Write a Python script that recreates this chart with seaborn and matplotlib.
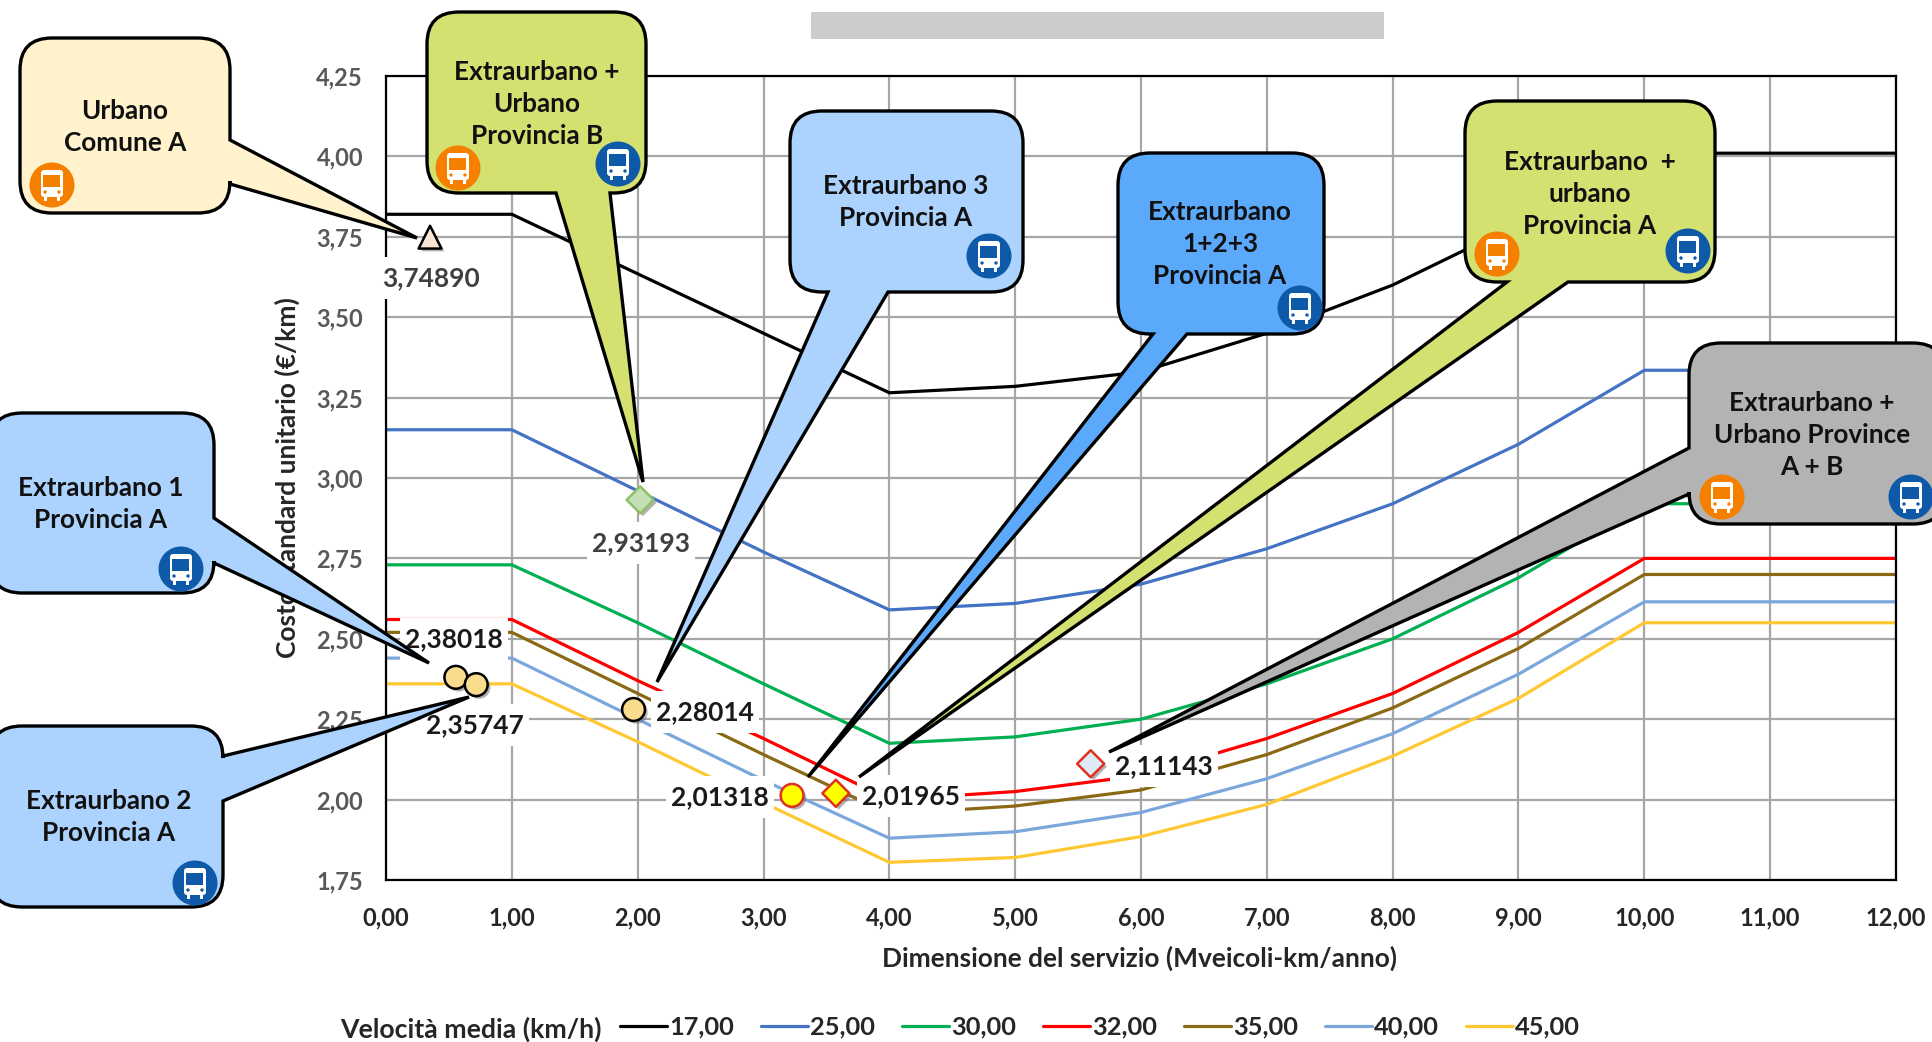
import matplotlib
matplotlib.use("Agg")
import numpy as np
import pandas as pd
import matplotlib.pyplot as plt
import matplotlib.patheffects as pe
import seaborn as sns
from matplotlib.patches import Circle, FancyBboxPatch, PathPatch, Rectangle
from matplotlib.path import Path
from matplotlib.ticker import FuncFormatter, MultipleLocator
from matplotlib.transforms import Affine2D

# values
dimension = [0, 1, 2, 3, 4, 5, 6, 7, 8, 9, 10, 12]
v17 = [3.82, 3.82, 3.635, 3.45, 3.265, 3.285, 3.33, 3.45, 3.60, 3.79, 4.01, 4.01]
v25 = [3.15, 3.15, 2.96, 2.77, 2.59, 2.61, 2.67, 2.78, 2.92, 3.105, 3.335, 3.335]
v30 = [2.73, 2.73, 2.55, 2.36, 2.175, 2.195, 2.25, 2.36, 2.50, 2.69, 2.92, 2.92]
v32 = [2.56, 2.56, 2.37, 2.19, 2.00, 2.025, 2.075, 2.19, 2.33, 2.52, 2.75, 2.75]
v35 = [2.52, 2.52, 2.33, 2.14, 1.955, 1.98, 2.03, 2.14, 2.285, 2.47, 2.70, 2.70]
v40 = [2.44, 2.44, 2.25, 2.06, 1.88, 1.90, 1.96, 2.065, 2.205, 2.39, 2.615, 2.615]
v45 = [2.36, 2.36, 2.18, 1.99, 1.805, 1.82, 1.885, 1.985, 2.135, 2.315, 2.55, 2.55]
speeds = ["17,00", "25,00", "30,00", "32,00", "35,00", "40,00", "45,00"]
speed_colors = ["#000000", "#4472C4", "#00B050", "#FF0000", "#8B6914", "#7BA7DC", "#FFC832"]

point_x = [0.35, 2.02, 0.555, 0.717, 1.967, 3.227, 3.575, 5.60]
point_y = [3.74890, 2.93193, 2.38018, 2.35747, 2.28014, 2.01318, 2.01965, 2.11143]
point_labels = ["3,74890", "2,93193", "2,38018", "2,35747", "2,28014", "2,01318", "2,01965", "2,11143"]
point_markers = ["^", "D", "o", "o", "o", "o", "D", "D"]
point_fill = ["#F8E5D6", "#C5E0B4", "#F9DC8E", "#F9DC8E", "#F9DC8E", "#FFFF00", "#FFFF00", "#DEEBF7"]
point_edge = ["#000000", "#8CC168", "#000000", "#000000", "#000000", "#E03020", "#E03020", "#E03020"]
point_size = [270, 190, 270, 270, 270, 270, 190, 190]
# label centres, pixels
label_pos = [(431, 278), (641, 543), (454, 639), (475, 725), (705, 712), (720, 797), (911, 796), (1164, 766)]

W, H = 1933, 1042
sns.set_theme(style="whitegrid")
plt.rcParams["font.family"] = ["Lato", "DejaVu Sans"]

long = pd.DataFrame({
    "x": dimension * 7,
    "y": v17 + v25 + v30 + v32 + v35 + v40 + v45,
    "speed": [s for s in speeds for _ in dimension],
})

fig = plt.figure(figsize=(W / 100, H / 100), dpi=100, facecolor="white")
ax = fig.add_axes([386 / W, 1 - 880 / H, 1510 / W, 804 / H])
pix = Affine2D().scale(1 / W, -1 / H).translate(0, 1) + fig.transFigure

sns.lineplot(data=long, x="x", y="y", hue="speed", hue_order=speeds, palette=speed_colors,
             linewidth=2.3, ax=ax, zorder=2.2, errorbar=None)

ax.set_xlim(0, 12)
ax.set_ylim(1.75, 4.25)
ax.xaxis.set_major_locator(MultipleLocator(1))
ax.yaxis.set_major_locator(MultipleLocator(0.25))
comma = FuncFormatter(lambda v, _: f"{v:.2f}".replace(".", ","))
ax.xaxis.set_major_formatter(comma)
ax.yaxis.set_major_formatter(comma)
ax.grid(True, color="#A6A6A6", linewidth=1.6)
ax.set_axisbelow(True)
for s in ax.spines.values():
    s.set_color("black")
    s.set_linewidth(1.6)
ax.tick_params(length=0)
ax.tick_params(axis="x", labelsize=17, labelcolor="#262626", pad=19)
ax.tick_params(axis="y", labelsize=17, labelcolor="#595959", pad=16.5)
for t in ax.get_xticklabels() + ax.get_yticklabels():
    t.set_fontweight("bold")
ax.set_xlabel("Dimensione del servizio (Mveicoli-km/anno)", fontsize=18.9, fontweight="bold",
              color="#262626", va="center")
ax.set_ylabel("Costo standard unitario (€/km)", fontsize=19, fontweight="bold", color="#262626", va="center")
ax.xaxis.set_label_coords(0.499, -0.098)
ax.yaxis.set_label_coords(-0.0656, 0.501)

sns.move_legend(ax, "center left", bbox_to_anchor=(620 / W, 1 - 1027 / H), bbox_transform=fig.transFigure,
                ncol=7, frameon=False, title=None, fontsize=18.3, handlelength=1.85, handletextpad=0.08,
                columnspacing=1.06, borderpad=0, borderaxespad=0)
for t in ax.get_legend().get_texts():
    t.set_fontweight("bold")
    t.set_color("#262626")
ax.text(340, 1029, "Velocità media (km/h)", transform=pix, fontsize=19.2, fontweight="bold",
        color="#262626", ha="left", va="center", clip_on=False)

# grey strip at the top of the slide
ax.add_patch(Rectangle((811, 12), 573, 27, transform=pix, color="#CCCCCC", lw=0, clip_on=False, zorder=1))

# white boxes behind labels hide the lines and the grid
for (cx, cy) in label_pos:
    ax.add_patch(Rectangle((cx - 54, cy - 21), 108, 42, transform=pix, facecolor="white", lw=0,
                           clip_on=False, zorder=3))

shadow = [pe.withSimplePatchShadow(offset=(2, -2), shadow_rgbFace="#666666", alpha=0.5)]
for i in range(len(point_x)):
    sns.scatterplot(x=[point_x[i]], y=[point_y[i]], marker=point_markers[i], s=point_size[i],
                    color=point_fill[i], edgecolor=point_edge[i], linewidth=1.8, ax=ax, zorder=4,
                    clip_on=False, legend=False, path_effects=shadow)
    ax.text(label_pos[i][0], label_pos[i][1], point_labels[i], transform=pix, fontsize=19,
            fontweight="bold", color="#404040" if i < 2 else "#1A1A1A", ha="center", va="center",
            zorder=5, clip_on=False)


def callout(x0, y0, x1, y1, side, a, b, tip, fill, r=32):
    # rounded box with a wedge going out of one side, in pixels
    verts = [(x0 + r, y0), (x1 - r, y0), (x1, y0), (x1, y0 + r)]
    codes = [Path.MOVETO, Path.LINETO, Path.CURVE3, Path.CURVE3]
    if side == "right":
        verts += [(x1, a), tip, (x1, b)]
        codes += [Path.LINETO] * 3
    verts += [(x1, y1 - r), (x1, y1), (x1 - r, y1)]
    codes += [Path.LINETO, Path.CURVE3, Path.CURVE3]
    if side == "bottom":
        verts += [(b, y1), tip, (a, y1)]
        codes += [Path.LINETO] * 3
    verts += [(x0 + r, y1), (x0, y1), (x0, y1 - r)]
    codes += [Path.LINETO, Path.CURVE3, Path.CURVE3]
    if side == "left":
        verts += [(x0, b), tip, (x0, a)]
        codes += [Path.LINETO] * 3
    verts += [(x0, y0 + r), (x0, y0), (x0 + r, y0), (x0 + r, y0)]
    codes += [Path.LINETO, Path.CURVE3, Path.CURVE3, Path.CLOSEPOLY]
    ax.add_patch(PathPatch(Path(verts, codes), facecolor=fill, edgecolor="black", linewidth=2.4,
                           joinstyle="miter", transform=pix, clip_on=False, zorder=6))


def bus(cx, cy, kind):
    # little bus pictogram inside a coloured disc
    color = "#F58000" if kind == "urban" else "#0F5AA8"
    ax.add_patch(Circle((cx, cy), 22.5, facecolor=color, lw=0, transform=pix, clip_on=False, zorder=7))
    ax.add_patch(FancyBboxPatch((cx - 11, cy - 15), 22, 27, boxstyle="round,pad=0,rounding_size=3",
                                facecolor="white", lw=0, transform=pix, clip_on=False, zorder=7.1))
    ax.add_patch(Rectangle((cx - 8.5, cy - 10), 17, 12, facecolor=color, lw=0, transform=pix,
                           clip_on=False, zorder=7.2))
    for dx in (-8, 5):
        ax.add_patch(Rectangle((cx + dx, cy + 12), 3.5, 4, facecolor="white", lw=0, transform=pix,
                               clip_on=False, zorder=7.1))
    for dx in (-7, 7):
        ax.add_patch(Circle((cx + dx, cy + 7), 1.7, facecolor=color, lw=0, transform=pix,
                            clip_on=False, zorder=7.2))


def box_text(x, y, s):
    ax.text(x, y, s, transform=pix, fontsize=18.8, fontweight="bold", color="#111111", ha="center",
            va="center", linespacing=1.42, zorder=7, clip_on=False)


callout(20, 38, 230, 213, "right", 140, 184, (417, 238), "#FFF2CC")
box_text(125, 127, "Urbano\nComune A")
bus(52, 185, "urban")

callout(427, 12, 646, 193, "bottom", 556, 610, (643, 482), "#D4E06F")
box_text(537, 104, "Extraurbano +\nUrbano\nProvincia B")
bus(458, 168, "urban")
bus(618, 164, "extra")

callout(790, 111, 1023, 292, "bottom", 828, 888, (657, 682), "#ABD3FD")
box_text(906, 202, "Extraurbano 3\nProvincia A")
bus(989, 256, "extra")

callout(1118, 153, 1324, 334, "bottom", 1153, 1187, (808, 777), "#5BA9FB")
box_text(1220, 244, "Extraurbano\n1+2+3\nProvincia A")
bus(1300, 308, "extra")

callout(1465, 101, 1715, 282, "bottom", 1507, 1568, (859, 777), "#D4E06F")
box_text(1590, 194, "Extraurbano  +\nurbano\nProvincia A")
bus(1497, 254, "urban")
bus(1688, 251, "extra")

callout(1689, 343, 1945, 524, "left", 448, 494, (1109, 752), "#B3B3B3")
box_text(1812, 435, "Extraurbano +\nUrbano Province\nA + B")
bus(1722, 497, "urban")
bus(1911, 497, "extra")

callout(-10, 413, 214, 593, "right", 518, 563, (429, 663), "#ABD3FD")
box_text(101, 504, "Extraurbano 1\nProvincia A")
bus(181, 569, "extra")

callout(-10, 726, 223, 907, "right", 756, 801, (469, 697), "#ABD3FD")
box_text(109, 817, "Extraurbano 2\nProvincia A")
bus(195, 883, "extra")

fig.savefig("out.png", dpi=100)
